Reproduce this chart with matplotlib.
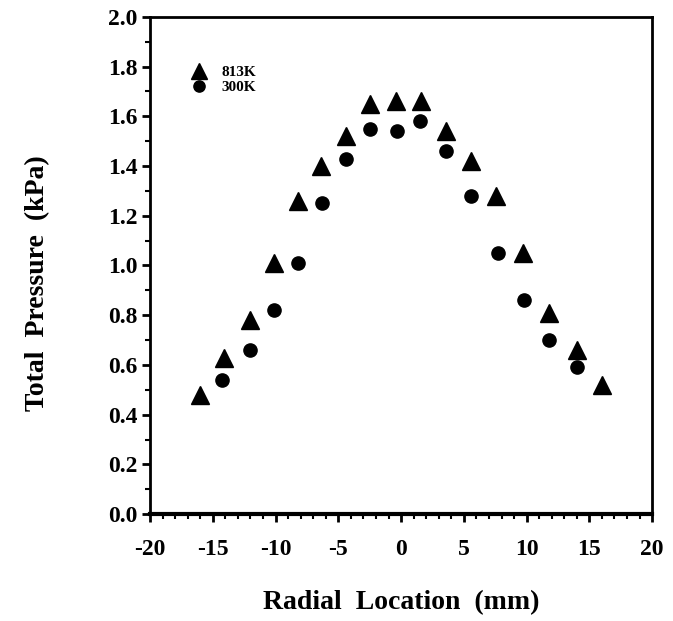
import numpy as np
import matplotlib.pyplot as plt
from matplotlib.ticker import MultipleLocator

plt.rcParams['font.family'] = ['Liberation Serif', 'DejaVu Serif']
plt.rcParams['font.weight'] = 'bold'
plt.rcParams['axes.unicode_minus'] = False

# Radial total-pressure profiles at two temperatures
x_813 = [-16.0, -14.1, -12.0, -10.1, -8.2, -6.4, -4.4, -2.5, -0.4, 1.6, 3.6, 5.6, 7.6, 9.7, 11.8, 14.0, 16.0]
p_813 = [0.48, 0.63, 0.78, 1.01, 1.26, 1.40, 1.52, 1.65, 1.66, 1.66, 1.54, 1.42, 1.28, 1.05, 0.81, 0.66, 0.52]

x_300 = [-14.3, -12.0, -10.1, -8.2, -6.3, -4.4, -2.5, -0.3, 1.5, 3.6, 5.6, 7.7, 9.8, 11.8, 14.0]
p_300 = [0.54, 0.66, 0.82, 1.01, 1.25, 1.43, 1.55, 1.54, 1.58, 1.46, 1.28, 1.05, 0.86, 0.70, 0.59]

fig = plt.figure(figsize=(6.73, 6.21), dpi=100)
ax = fig.add_axes([0.223, 0.172, 0.746, 0.801])

ax.plot(x_813, p_813, '^', color='black', markersize=13.5, linestyle='none', label='813K')
ax.plot(x_300, p_300, 'o', color='black', markersize=9.5, linestyle='none', label='300K')

ax.set_xlim(-20, 20)
ax.set_ylim(0, 2.0)
ax.xaxis.set_major_locator(MultipleLocator(5))
ax.xaxis.set_minor_locator(MultipleLocator(1))
ax.yaxis.set_major_locator(MultipleLocator(0.2))
ax.yaxis.set_minor_locator(MultipleLocator(0.1))
ax.yaxis.set_major_formatter(plt.FormatStrFormatter('%.1f'))

for s in ax.spines.values():
    s.set_linewidth(2)
ax.spines['bottom'].set_linewidth(3)

ax.tick_params(axis='both', which='major', direction='out', length=6, width=2,
               labelsize=17, top=False, right=False)
ax.tick_params(axis='both', which='minor', direction='out', length=3.5, width=1.5,
               top=False, right=False)
ax.tick_params(axis='y', which='major', pad=3)
ax.tick_params(axis='x', which='major', pad=12)
for lab in ax.get_xticklabels() + ax.get_yticklabels():
    lab.set_fontweight('bold')

ax.set_xlabel('Radial  Location  (mm)', fontsize=20, fontweight='bold')
ax.set_ylabel('Total  Pressure  (kPa)', fontsize=20, fontweight='bold')
ax.xaxis.set_label_coords(0.5, -0.152)
ax.yaxis.set_label_coords(-0.2, 0.465)

leg = ax.legend(loc='upper left', bbox_to_anchor=(0.07, 0.915), frameon=False,
                fontsize=11, handletextpad=1.0, labelspacing=0.1,
                handlelength=1.0, borderaxespad=0, markerscale=0.85)
for t in leg.get_texts():
    t.set_fontweight('bold')

fig.savefig('out.png', dpi=100)
